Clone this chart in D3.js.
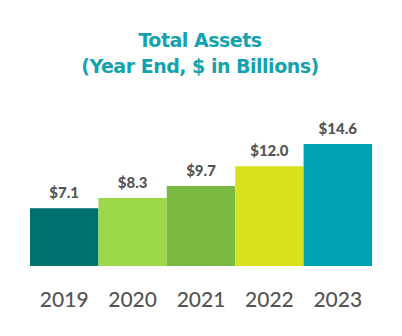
<!DOCTYPE html>
<html>
<head>
<meta charset="utf-8">
<script src="https://cdn.jsdelivr.net/npm/d3@7"></script>
<style>
  html, body { margin: 0; padding: 0; background: #fff; }
  svg { display: block; }
</style>
</head>
<body>
<svg id="chart" width="402" height="336"></svg>
<script>
// Total assets by year end, $ billions
const years = ["2019", "2020", "2021", "2022", "2023"];
const assets = [7.1, 8.3, 9.7, 12.0, 14.6];
const valueLabels = ["$7.1", "$8.3", "$9.7", "$12.0", "$14.6"];
const barColors = ["#006f6f", "#9dd84b", "#7aba43", "#d8e11c", "#00a1b0"];
const titleLines = ["Total Assets", "(Year End, $ in Billions)"];

const svg = d3.select("#chart");
const plotLeft = 30, plotRight = 372, plotBase = 266, plotTop = 144;

const x = d3.scaleBand().domain(years).range([plotLeft, plotRight]).padding(0);
const y = d3.scaleLinear().domain([0.35, d3.max(assets)]).range([plotBase, plotTop]);

// Title
svg.append("g")
  .selectAll("text")
  .data(titleLines)
  .join("text")
  .attr("x", 200)
  .attr("y", (d, i) => 47 + i * 26)
  .attr("text-anchor", "middle")
  .attr("font-family", "'DejaVu Sans', sans-serif")
  .attr("font-weight", 700)
  .attr("font-size", 19)
  .attr("letter-spacing", -0.5)
  .attr("fill", "#13a3ae")
  .text(d => d);

// Bars
svg.append("g")
  .selectAll("rect")
  .data(assets)
  .join("rect")
  .attr("x", (d, i) => x(years[i]))
  .attr("width", x.bandwidth())
  .attr("y", d => y(d))
  .attr("height", d => plotBase - y(d))
  .attr("fill", (d, i) => barColors[i]);

// Value labels
svg.append("g")
  .selectAll("text")
  .data(assets)
  .join("text")
  .attr("x", (d, i) => x(years[i]) + x.bandwidth() / 2)
  .attr("y", d => y(d) - 10)
  .attr("text-anchor", "middle")
  .attr("font-family", "Lato, 'Open Sans', sans-serif")
  .attr("font-weight", 900)
  .attr("font-size", 15)
  .attr("fill", "#555555")
  .text((d, i) => valueLabels[i]);

// Year axis
const axis = svg.append("g")
  .attr("transform", `translate(0,${plotBase})`)
  .call(d3.axisBottom(x).tickSize(0).tickPadding(0));
axis.select(".domain").remove();
axis.selectAll("text")
  .attr("dy", null)
  .attr("y", 41)
  .attr("font-family", "Lato, 'Open Sans', sans-serif")
  .attr("font-weight", 500)
  .attr("font-size", 21)
  .attr("fill", "#555555");
</script>
</body>
</html>
